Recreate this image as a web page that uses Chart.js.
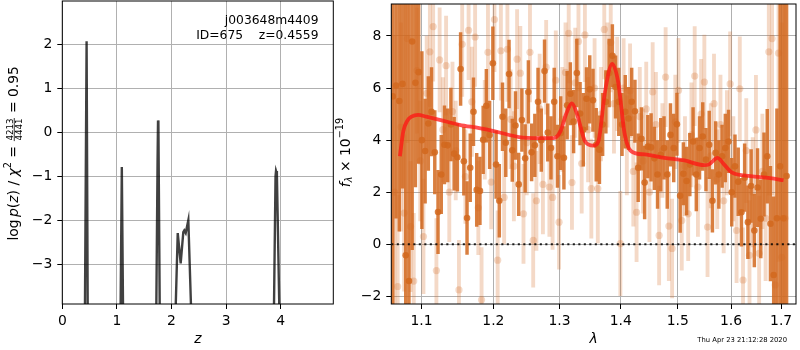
<!DOCTYPE html>
<html><head><meta charset="utf-8">
<script src="https://cdn.jsdelivr.net/npm/chart.js@4.4.1/dist/chart.umd.min.js"></script>
<style>
html,body{margin:0;padding:0;background:#fff;}
#wrap{position:relative;width:800px;height:350px;background:#fff;}
canvas{position:absolute;left:0;top:0;}
</style></head><body>
<div id="wrap"><canvas id="pz" width="800" height="350"></canvas><canvas id="sp" width="800" height="350"></canvas></div>
<script>
// ---------- p(z) panel ----------
const zGrid = [0.00,0.40,0.415,0.445,0.465,0.48, 1.05,1.068,1.090,1.112,1.13, 1.70,1.722,1.745,1.753,1.760,1.784,1.80, 2.06,2.077,2.114,2.168,2.216,2.234,2.260,2.308,2.357,2.38, 3.86,3.877,3.905,3.914,3.930,3.974,3.99, 4.963];
const logPz = [-12,-12,-3.95,2.07,-3.95,-12, -12,-3.95,-0.79,-3.95,-12, -12,-3.95,-0.6,0.27,0.2,-3.95,-12, -12,-3.95,-2.29,-2.98,-2.27,-2.23,-2.29,-2.0,-3.95,-12, -12,-3.95,-1.0,-0.88,-0.95,-3.95,-12, -12];
const zTicks = [0,1,2,3,4];
const pzTicks = [-3,-2,-1,0,1,2];
const objName = 'j003648m4409';
const objId = 675;
const zBest = 0.4559;
const chi2Num = 4213, chi2Den = 4441, chi2Red = '0.95';

// ---------- spectrum panel ----------
const lamTicks = [1.1,1.2,1.3,1.4,1.5,1.6,1.7];
const fluxTicks = [-2,0,2,4,6,8];
const darkLam = [1.0625,1.0667,1.0709,1.0751,1.0793,1.0835,1.0877,1.0920,1.0963,1.1006,
1.1049,1.1092,1.1135,1.1179,1.1223,1.1267,1.1311,1.1355,1.1399,1.1444,
1.1489,1.1534,1.1579,1.1624,1.1669,1.1715,1.1761,1.1807,1.1853,1.1899,
1.1946,1.1993,1.2040,1.2087,1.2134,1.2182,1.2230,1.2278,1.2326,1.2374,
1.2422,1.2471,1.2520,1.2569,1.2618,1.2667,1.2717,1.2767,1.2817,1.2867,
1.2917,1.2968,1.3019,1.3070,1.3121,1.3172,1.3224,1.3276,1.3328,1.3380,
1.3432,1.3485,1.3538,1.3591,1.3644,1.3697,1.3751,1.3805,1.3859,1.3913,
1.3967,1.4022,1.4077,1.4132,1.4187,1.4243,1.4299,1.4355,1.4411,1.4467,
1.4524,1.4581,1.4638,1.4695,1.4753,1.4811,1.4869,1.4927,1.4985,1.5044,
1.5103,1.5162,1.5221,1.5281,1.5341,1.5401,1.5461,1.5521,1.5582,1.5643,
1.5704,1.5765,1.5827,1.5889,1.5951,1.6013,1.6076,1.6139,1.6202,1.6265,
1.6329,1.6393,1.6457,1.6521,1.6586,1.6651,1.6716,1.6781,1.6847,1.6913,
1.6979,1.7045,1.7112];
const darkFlux = [5.68,6.1,5.5,6.16,-0.42,-1.41,7.79,6.2,6.61,4.0,
3.58,4.64,5.09,3.53,1.24,2.68,3.82,3.8,4.6,3.48,
3.34,6.73,3.19,1.01,2.94,5.09,2.09,2.05,4.01,5.32,
4.2,6.95,3.06,1.67,4.9,3.9,6.54,3.61,4.56,2.3,
4.77,3.3,5.85,3.53,3.8,5.47,4.0,6.65,4.29,3.7,
5.47,3.38,4.27,3.32,5.34,5.78,4.71,6.58,5.02,4.4,
5.59,5.95,5.53,3.82,3.63,4.6,5.47,6.58,7.24,6.04,
5.47,4.6,5.09,4.83,5.47,5.11,2.94,4.05,2.37,3.75,
3.72,3.3,2.68,3.44,3.7,2.68,4.2,3.7,4.61,1.86,
2.71,2.43,3.06,3.95,2.68,3.7,4.14,3.25,3.82,1.67,
3.51,2.68,3.38,3.7,3.95,2.0,3.0,2.4,1.23,2.56,
0.85,2.24,0.53,2.18,0.98,2.68,3.38,0.79,-1.18,1.0,
3.0,1.0,2.62];
const darkErr = [10,5.1,5,4,10,11,8,4,3.5,3.4,
2.0,1.8,1.7,1.6,1.6,1.5,1.5,1.4,1.4,1.4,
1.3,1.4,1.3,1.4,1.3,1.3,1.4,1.3,1.3,1.4,
1.3,1.4,1.3,1.4,1.3,1.3,1.3,1.2,1.3,1.2,
1.2,1.3,1.2,1.1,1.2,1.3,1.2,1.2,1.1,1.2,
1.3,1.2,1.4,1.2,1.3,1.2,1.2,1.3,1.2,1.4,
1.2,1.3,1.2,1.4,1.3,1.2,1.2,1.3,1.2,1.2,
1.3,1.2,1.4,1.2,1.3,1.2,1.3,1.2,1.4,1.2,
1.3,1.2,1.3,1.4,1.2,1.3,1.2,1.3,1.2,1.4,
1.2,1.3,1.2,1.3,1.4,1.2,1.3,1.2,1.3,1.2,
1.2,1.3,1.2,1.3,1.2,1.3,1.2,1.3,1.3,1.3,
1.4,1.4,1.4,1.5,1.5,1.6,1.8,2.2,3.0,4.2,
9,10,11];
const lightLam = [1.0646,1.0688,1.0730,1.0772,1.0814,1.0856,1.0898,1.0941,1.0984,1.1027,
1.1070,1.1113,1.1157,1.1201,1.1245,1.1289,1.1333,1.1377,1.1421,1.1466,
1.1511,1.1556,1.1601,1.1646,1.1692,1.1738,1.1784,1.1830,1.1876,1.1922,
1.1969,1.2016,1.2063,1.2110,1.2158,1.2206,1.2254,1.2302,1.2350,1.2398,
1.2446,1.2495,1.2544,1.2593,1.2642,1.2692,1.2742,1.2792,1.2842,1.2892,
1.2942,1.2993,1.3044,1.3095,1.3146,1.3198,1.3250,1.3302,1.3354,1.3406,
1.3458,1.3511,1.3564,1.3617,1.3670,1.3724,1.3778,1.3832,1.3886,1.3940,
1.3994,1.4049,1.4104,1.4159,1.4215,1.4271,1.4327,1.4383,1.4439,1.4495,
1.4552,1.4609,1.4666,1.4724,1.4782,1.4840,1.4898,1.4956,1.5014,1.5073,
1.5132,1.5191,1.5251,1.5311,1.5371,1.5431,1.5491,1.5551,1.5612,1.5673,
1.5734,1.5796,1.5858,1.5920,1.5982,1.6044,1.6107,1.6170,1.6233,1.6297,
1.6361,1.6425,1.6489,1.6553,1.6618,1.6683,1.6748,1.6814,1.6880,1.6946,
1.7012,1.7078];
const lightFlux = [2.0,-1.62,4.5,1.2,7.9,0.68,-1.41,6.67,3.2,0.30,
5.8,7.39,8.36,-1.01,7.08,4.4,6.86,2.0,5.1,3.6,
-1.75,7.68,2.6,8.22,5.47,7.96,1.4,-2.13,4.4,7.37,
2.39,8.63,-0.61,7.43,1.8,7.49,4.8,3.0,7.11,6.57,
1.17,3.9,7.37,0.15,1.67,5.2,2.3,6.8,2.2,1.8,
6.3,0.85,4.8,6.6,8.1,2.37,6.2,7.79,3.1,8.04,
4.4,2.14,6.0,2.14,5.0,8.25,6.5,7.75,5.4,6.16,
0.03,6.0,3.8,5.9,2.8,1.23,4.9,3.2,5.2,2.0,
5.85,4.6,0.34,3.6,6.42,0.7,-0.16,4.7,5.91,0.91,
3.0,1.17,4.2,6.46,2.2,5.0,6.23,0.66,3.4,5.4,
2.5,4.6,1.67,3.9,6.16,2.9,0.53,5.97,-1.37,3.6,
-0.42,2.0,4.39,-0.35,2.8,1.0,7.39,7.9,-1.56,7.34,
-0.5,1.0];
const lightErr = [6,3.5,4,3,4,2.5,2.6,2.4,2.3,2.2,
2.2,2.1,2.1,2.0,2.0,2.0,1.9,1.9,1.9,1.9,
1.9,2.0,1.8,1.9,2.1,1.9,1.8,2.0,1.9,1.9,
1.8,2.0,1.9,1.9,1.8,2.0,1.9,2.1,1.9,1.8,
1.9,2.0,1.9,1.8,1.9,2.1,1.9,1.8,1.9,2.0,
1.9,1.8,2.0,1.9,1.9,1.8,2.1,1.9,1.9,1.8,
2.0,1.9,1.9,2.1,1.8,1.9,2.0,1.9,1.9,1.8,
2.0,1.9,1.9,1.8,2.1,1.9,1.9,2.0,1.8,1.9,
1.9,2.0,1.9,1.8,1.9,2.1,1.9,1.8,2.0,1.9,
1.9,1.8,2.0,1.9,1.9,2.1,1.8,1.9,2.0,1.9,
1.9,1.9,2.0,2.0,2.0,2.0,2.0,2.0,2.0,2.0,
2.1,2.1,2.1,2.2,2.2,2.4,5.5,6,4,8,
9,10];
const modelLam = [1.0717,1.076,1.0815,1.0869,1.0955,1.1066,1.1244,1.1518,1.1798,1.2036,1.2378,1.2679,1.2909,1.3013,1.3105,1.3196,1.3275,1.341,1.3544,1.3626,1.3736,1.3856,1.3956,1.4069,1.4181,1.4411,1.4761,1.512,1.5487,1.558,1.5737,1.5863,1.6022,1.6379,1.6777,1.7049];
const modelFlux = [3.38,4.33,4.75,4.9,4.97,4.9,4.78,4.59,4.46,4.33,4.12,4.08,4.08,4.33,5.0,5.41,5.03,3.95,3.79,3.95,5.86,6.93,6.24,4.21,3.57,3.45,3.32,3.22,3.04,3.07,3.32,3.07,2.75,2.62,2.54,2.46];
const lamRange = [1.0606, 1.7308];
const fluxRange = [-2.292, 9.227];
const stamp = 'Thu Apr 23 21:12:28 2020';

// ---------- styling ----------
const FAM = '"DejaVu Sans"';
const F = 13.9;
Chart.defaults.font.family = 'DejaVu Sans';
Chart.defaults.color = '#000';
const minus = v => (v < 0 ? '\u2212' : '') + Math.abs(v);
const DARK = 'rgba(210,105,30,0.85)';
const LIGHT = 'rgba(210,105,30,0.25)';

function drawFrame(chart){
  const a = chart.chartArea, c = chart.ctx;
  c.save(); c.strokeStyle = '#000'; c.lineWidth = 1;
  c.strokeRect(a.left, a.top, a.right - a.left, a.bottom - a.top);
  c.restore();
}
function drawRotated(ctx, parts, bx, cy){
  ctx.save();
  let total = 0;
  for (const p of parts){
    if (p.gap){ p.w = p.gap; }
    else if (p.frac){ ctx.font = p.font; p.w = Math.max(ctx.measureText(p.frac[0]).width, ctx.measureText(p.frac[1]).width) + 2; }
    else { ctx.font = p.font; p.w = ctx.measureText(p.text).width; }
    total += p.w;
  }
  ctx.translate(bx, cy); ctx.rotate(-Math.PI/2);
  ctx.fillStyle = '#000'; ctx.textBaseline = 'alphabetic'; ctx.textAlign = 'left';
  let x = -total/2;
  for (const p of parts){
    if (p.frac){
      ctx.font = p.font; ctx.textAlign = 'center';
      const mid = x + p.w/2;
      ctx.fillText(p.frac[0], mid, p.num);
      ctx.fillText(p.frac[1], mid, p.den);
      ctx.fillRect(x + 0.5, p.bar - 0.4, p.w - 1, 0.8);
      ctx.textAlign = 'left';
    } else if (p.text){ ctx.font = p.font; ctx.fillText(p.text, x, p.dy || 0); }
    x += p.w;
  }
  ctx.restore();
}
const nF = `${F}px ${FAM}`, iF = `italic ${F}px ${FAM}`, sF = `${(F*0.7).toFixed(2)}px ${FAM}`, siF = `italic ${(F*0.7).toFixed(2)}px ${FAM}`, fF = `8.7px ${FAM}`;

function tickCfg(fmt){ return {autoSkip:false, maxRotation:0, padding:4, font:{size:F}, color:'#000', callback:fmt}; }
const gridCfg = {color:'#b0b0b0', lineWidth:1, tickLength:5, tickColor:'#000', tickWidth:1};
function noPad(s){ s.paddingTop = 0; s.paddingBottom = 0; s.paddingLeft = 0; s.paddingRight = 0; }

const pzDeco = {
  id:'pzDeco',
  afterDraw(chart){
    const c = chart.ctx;
    drawFrame(chart);
    c.save();
    c.fillStyle = '#000'; c.font = `12.3px ${FAM}`; c.textAlign = 'right'; c.textBaseline = 'alphabetic';
    c.fillText(objName, 318.5, 23.7);
    c.fillText(`ID=${objId}    z=${zBest.toFixed(4)}`, 318.5, 39);
    c.restore();
    drawRotated(c, [
      {text:'log', font:nF}, {gap:F*0.17}, {text:'p', font:iF}, {text:'(', font:nF}, {text:'z', font:iF}, {text:')', font:nF},
      {text:' / ', font:nF}, {text:'\u03c7', font:iF}, {text:'2', font:sF, dy:-F*0.45}, {text:' = ', font:nF},
      {frac:[String(chi2Num), String(chi2Den)], font:fF, num:-4.3, den:4.4, bar:-3.3},
      {text:' = ', font:nF}, {text:chi2Red, font:nF}
    ], 17.5, 153.3);
  }
};
const spDeco = {
  id:'spDeco',
  afterDraw(chart){
    const c = chart.ctx;
    drawFrame(chart);
    drawRotated(c, [
      {text:'f', font:iF}, {text:'\u03bb', font:siF, dy:2.9}, {text:' \u00d7 ', font:nF}, {text:'10', font:nF}, {text:'\u221219', font:sF, dy:-6.3}
    ], 349.5, 152.5);
    c.save();
    c.fillStyle = '#000'; c.font = `6.8px ${FAM}`; c.textAlign = 'right'; c.textBaseline = 'alphabetic';
    c.fillText(stamp, 787, 342);
    c.restore();
  }
};

new Chart(document.getElementById('pz'), {
  type:'line',
  data:{datasets:[{
    data: zGrid.map((z,i)=>({x:z, y:logPz[i]})),
    borderColor:'rgba(0,0,0,0.75)', borderWidth:2.4, pointRadius:0, tension:0, clip:0
  }]},
  options:{
    responsive:false, animation:false, devicePixelRatio:1,
    layout:{padding:{left:0, right:466.7, top:1, bottom:0}},
    plugins:{legend:{display:false}, tooltip:{enabled:false}},
    scales:{
      x:{type:'linear', min:0, max:4.963,
         afterBuildTicks:s=>{ s.ticks = zTicks.map(v=>({value:v})); },
         afterFit:s=>{ s.height = 46; noPad(s); },
         ticks:tickCfg(v=>minus(v)), grid:gridCfg, border:{display:false},
         title:{display:true, text:'z', font:{size:F, style:'italic'}, color:'#000', padding:{top:0, bottom:2}}},
      y:{type:'linear', min:-3.902, max:2.984,
         afterBuildTicks:s=>{ s.ticks = pzTicks.map(v=>({value:v})); },
         afterFit:s=>{ s.width = 62.3; noPad(s); },
         ticks:Object.assign(tickCfg(v=>minus(v)), {padding:5}), grid:gridCfg, border:{display:false}}
    }
  },
  plugins:[pzDeco]
});

const barData = (lam, flux, err) => lam.map((l,i)=>({x:l, y:[flux[i]-err[i], flux[i]+err[i]]}));
const ptData = (lam, flux) => lam.map((l,i)=>({x:l, y:flux[i]}));

new Chart(document.getElementById('sp'), {
  type:'scatter',
  data:{datasets:[
    {type:'line', data:[{x:lamRange[0], y:0},{x:lamRange[1], y:0}], borderColor:'rgba(0,0,0,0.85)', borderWidth:2, borderDash:[2.1,3.4], pointRadius:0, clip:0, order:1},
    {type:'line', data:ptData(modelLam, modelFlux), borderColor:'rgba(255,20,20,0.75)', borderWidth:3.8, pointRadius:0, cubicInterpolationMode:'monotone', clip:0, order:2},
    {type:'scatter', data:ptData(darkLam, darkFlux), pointRadius:3.3, pointBorderWidth:0, backgroundColor:DARK, pointBackgroundColor:DARK, clip:0, order:3},
    {type:'bar', data:barData(darkLam, darkFlux, darkErr), backgroundColor:DARK, barThickness:2.8, grouped:false, borderWidth:0, clip:0, order:4},
    {type:'scatter', data:ptData(lightLam, lightFlux), pointRadius:3.6, pointBorderWidth:0, backgroundColor:LIGHT, pointBackgroundColor:LIGHT, clip:0, order:5},
    {type:'bar', data:barData(lightLam, lightFlux, lightErr), backgroundColor:LIGHT, barThickness:3.2, grouped:false, borderWidth:0, clip:0, order:6}
  ]},
  options:{
    responsive:false, animation:false, devicePixelRatio:1,
    layout:{padding:{left:340, right:0.7, top:1, bottom:0}},
    plugins:{legend:{display:false}, tooltip:{enabled:false}},
    scales:{
      x:{type:'logarithmic', min:lamRange[0], max:lamRange[1], offset:false,
         afterBuildTicks:s=>{ s.ticks = lamTicks.map(v=>({value:v})); },
         afterFit:s=>{ s.height = 46; noPad(s); },
         ticks:tickCfg(v=>Number(v).toFixed(1)), grid:Object.assign({}, gridCfg, {offset:false}), border:{display:false},
         title:{display:true, text:'\u03bb', font:{size:F, style:'italic'}, color:'#000', padding:{top:0, bottom:2}}},
      y:{type:'linear', min:fluxRange[0], max:fluxRange[1],
         afterBuildTicks:s=>{ s.ticks = fluxTicks.map(v=>({value:v})); },
         afterFit:s=>{ s.width = 51.3; noPad(s); },
         ticks:Object.assign(tickCfg(v=>minus(v)), {padding:5}), grid:gridCfg, border:{display:false}}
    }
  },
  plugins:[spDeco]
});
</script>
</body></html>
